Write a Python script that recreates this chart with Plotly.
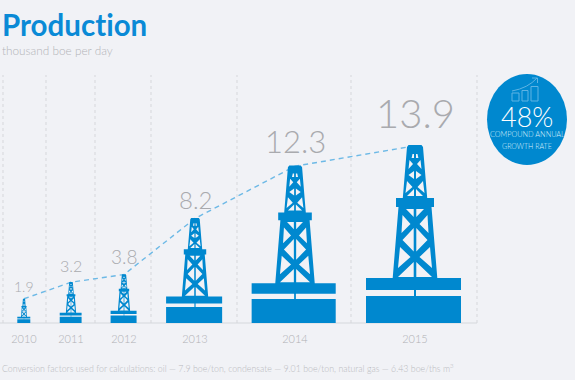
import plotly.graph_objects as go

# ---- data ----
years = ["2010", "2011", "2012", "2013", "2014", "2015"]
production = [1.9, 3.2, 3.8, 8.2, 12.3, 13.9]
value_labels = ["1.9", "3.2", "3.8", "8.2", "12.3", "13.9"]

# ---- layout / style constants ----
W, H = 575, 380
BASE_PX = 323            # pixel row of the zero line
PX_PER_UNIT = 12.75      # pixels per thousand boe
BG = "#f1f2f6"
BLUE = "#0088cf"
GREY = "#a9aaae"
centers = [24, 71, 124, 195, 295, 415]
edges = [3, 46, 95, 151, 237, 351, 477]
label_sizes = [14, 16, 19, 24, 31, 40]
label_gap = [2, 5, 5, 2, 4, 7]

FONT = "Lato"
FULL = production[-1]

# Rig glyph, described once as (dx, height) pixels for the largest rig; others scale with value
def mirror(pts):
    return [(-x, y) for x, y in pts]

glyph_blocks = [
    [(-49, 0), (46, 0), (46, 27), (-49, 27)],
    [(-49, 33), (46, 33), (46, 45), (-49, 45)],
    [(-1, 26), (1, 26), (1, 34), (-1, 34)],
    [(-22.3, 45), (22.3, 45), (16.5, 116), (19, 116), (19, 125), (12.2, 125), (8, 176),
     (6.5, 178), (-6.5, 178), (-8, 176), (-12.2, 125), (-19, 125), (-19, 116), (-16.5, 116)],
]
glyph_holes_left = [
    # lower panel
    [(-1.3, 114), (-9, 114), (-1.3, 106)],
    [(-12.5, 108), (-4.5, 99), (-13.5, 90)],
    [(-1.3, 95), (-1.3, 71.5), (-12.5, 83)],
    [(-15, 76), (-4.5, 66), (-17, 55)],
    [(-1.3, 61), (-1.3, 46), (-17, 46)],
    # upper panel
    [(-2.5, 169), (-1, 169), (-1, 165), (-3.4, 165)],
    [(-5.5, 163), (-2, 159), (-6.5, 154)],
    [(-1, 152), (-1, 144), (-6.5, 148)],
    [(-8, 142), (-2.5, 136), (-9.5, 130)],
    [(-1, 134), (-1, 127), (-8, 127)],
]
glyph_holes = glyph_holes_left + [mirror(p) for p in glyph_holes_left]


def polys_to_xy(polys, cx, value):
    s = value / FULL
    xs, ys = [], []
    for poly in polys:
        for dx, h in poly + poly[:1]:
            xs.append(cx + dx * s)
            ys.append(h * s / PX_PER_UNIT)
        xs.append(None)
        ys.append(None)
    return xs, ys


fig = go.Figure()

# dashed trend line through the values
fig.add_trace(go.Scatter(x=centers, y=production, mode="lines", hoverinfo="skip",
                         line=dict(color="#6db9e6", width=1.4, dash="5px,4px")))

for cx, v in zip(centers, production):
    xs, ys = polys_to_xy(glyph_blocks, cx, v)
    fig.add_trace(go.Scatter(x=xs, y=ys, mode="lines", fill="toself", fillcolor=BLUE,
                             line=dict(width=0), hoverinfo="skip"))
    xs, ys = polys_to_xy(glyph_holes, cx, v)
    fig.add_trace(go.Scatter(x=xs, y=ys, mode="lines", fill="toself", fillcolor=BG,
                             line=dict(width=0), hoverinfo="skip"))

shapes = []
y_top = BASE_PX / PX_PER_UNIT
y_bot = (BASE_PX - H) / PX_PER_UNIT


def py(p):
    return (BASE_PX - p) / PX_PER_UNIT


for e in edges:
    shapes.append(dict(type="line", xref="x", yref="y", x0=e, x1=e, y0=0, y1=py(75),
                       line=dict(color="#d6d7db", width=1, dash="dot"), layer="below"))
shapes.append(dict(type="line", xref="x", yref="y", x0=0, x1=477, y0=0, y1=0,
                   line=dict(color="#d6d7db", width=1.2), layer="below"))
# badge
shapes.append(dict(type="circle", xref="x", yref="y", x0=487, x1=567, y0=py(165), y1=py(74),
                   fillcolor=BLUE, line=dict(width=0)))
ICON = "#5fb4e4"
for x0, x1, top in [(512, 519, 93), (522, 528, 90.5), (531, 538, 86.5)]:
    shapes.append(dict(type="rect", xref="x", yref="y", x0=x0, x1=x1, y0=py(101), y1=py(top),
                       line=dict(color=ICON, width=1)))
shapes.append(dict(type="path", xref="x", yref="y",
                   path=f"M 512 {py(91)} Q 528 {py(88)} 537 {py(78)} M 532 {py(78)} L 537.5 {py(78)} L 537.5 {py(83)}",
                   line=dict(color=ICON, width=1)))

ann = []
for cx, v, t, sz, gap in zip(centers, production, value_labels, label_sizes, label_gap):
    ann.append(dict(x=cx, y=v, text=t, showarrow=False, xanchor="center", yanchor="bottom",
                    yshift=gap, font=dict(family=FONT, size=sz, color=GREY, weight=300)))


def text_px(x, y, t, size, color, anchor="left", weight=400):
    ann.append(dict(xref="x", yref="y", x=x, y=py(y), text=t, showarrow=False, xanchor=anchor,
                    yanchor="middle", font=dict(family=FONT, size=size, color=color, weight=weight)))


text_px(0, 24, "<b>Produc\u200ct\u200cion</b>", 29.5, "#0a8ad6")
text_px(0, 50, "thousand boe per day", 11.8, "#b3b4b8", weight=300)
text_px(527, 116, "48%", 27, "#ffffff", "center", 300)
text_px(527, 134, "COMPOUND ANNUAL", 7.3, "#d8eefa", "center", 300)
text_px(527, 146, "GROWTH RATE", 7, "#d8eefa", "center", 300)
text_px(0, 368, "Conversion factors used for calculations: oil — 7.9 boe/ton, condensate — 9.01 boe/ton, natural gas — 6.43 boe/ths m<sup>3</sup>",
        8.8, "#b9babe", weight=300)

fig.update_layout(
    width=W, height=H, autosize=False, showlegend=False,
    margin=dict(l=0, r=0, t=0, b=0),
    paper_bgcolor=BG, plot_bgcolor=BG,
    shapes=shapes, annotations=ann,
    hovermode=False,
    xaxis=dict(range=[0, W], showgrid=False, zeroline=False, showline=False,
               tickmode="array", tickvals=centers, ticktext=years,
               anchor="free", position=(H - BASE_PX) / H, side="bottom",
               ticks="outside", ticklen=6, tickcolor="rgba(0,0,0,0)",
               tickfont=dict(family=FONT, size=11, color="#b0b1b5", weight=300), fixedrange=True),
    yaxis=dict(range=[y_bot, y_top], visible=False, fixedrange=True),
)
fig.write_html("out.html", config=dict(displayModeBar=False),
               post_script="document.body.style.margin='0';document.body.style.overflow='hidden';"
                           f"document.body.style.background='{BG}';")
